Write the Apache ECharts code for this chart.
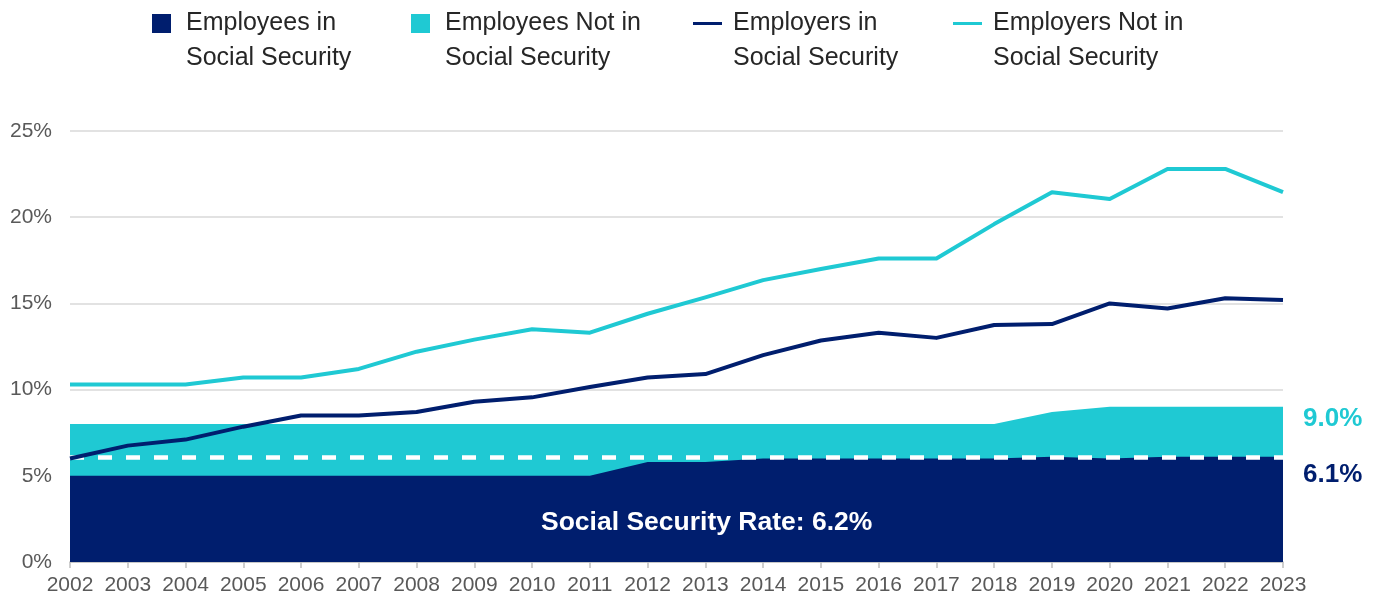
<!DOCTYPE html>
<html>
<head>
<meta charset="utf-8">
<script src="https://cdn.jsdelivr.net/npm/echarts@6/dist/echarts.min.js"></script>
<style>
html,body{margin:0;padding:0;background:#fff;}
#chart{width:1379px;height:600px;}
</style>
</head>
<body>
<div id="chart"></div>
<script>
const years = ['2002','2003','2004','2005','2006','2007','2008','2009','2010','2011','2012','2013','2014','2015','2016','2017','2018','2019','2020','2021','2022','2023'];
const employeesInSS    = [5.0,5.0,5.0,5.0,5.0,5.0,5.0,5.0,5.0,5.0,5.8,5.8,6.0,6.0,6.0,6.0,6.0,6.1,6.0,6.1,6.1,6.1];
const employeesNotInSS = [8.0,8.0,8.0,8.0,8.0,8.0,8.0,8.0,8.0,8.0,8.0,8.0,8.0,8.0,8.0,8.0,8.0,8.7,9.0,9.0,9.0,9.0];
const employersInSS    = [6.0,6.75,7.1,7.85,8.5,8.5,8.7,9.3,9.55,10.15,10.7,10.9,12.0,12.85,13.3,13.0,13.75,13.8,15.0,14.7,15.3,15.2];
const employersNotInSS = [10.3,10.3,10.3,10.7,10.7,11.2,12.2,12.9,13.5,13.3,14.4,15.35,16.35,17.0,17.6,17.6,19.6,21.45,21.05,22.8,22.8,21.45];
const yTicks = [0,5,10,15,20,25];
const dashedLevel = 6.1;   // where the dashed reference line sits in the picture
const seriesNames = ['Employees in Social Security','Employees Not in Social Security','Employers in Social Security','Employers Not in Social Security'];
const legendLabels = ['Employees in\nSocial Security','Employees Not in\nSocial Security','Employers in\nSocial Security','Employers Not in\nSocial Security'];
const rateLabel = 'Social Security Rate: 6.2%';

const NAVY = '#001e6e';
const CYAN = '#1fc9d3';
const FONT = "'Liberation Sans', Arial, Helvetica, sans-serif";

const chart = echarts.init(document.getElementById('chart'), null, {renderer:'canvas'});

const legendLefts = [152, 411, 693, 953];
const legends = seriesNames.map((n, i) => ({
  left: legendLefts[i],
  top: -29,
  padding: 0,
  data: [n],
  icon: 'rect',
  itemWidth: i < 2 ? 19 : 29,
  itemHeight: i < 2 ? 19 : 3,
  selectedMode: false,
  formatter: () => '\n' + legendLabels[i],
  textStyle: {
    fontFamily: FONT, fontSize: 25, lineHeight: 35, color: '#262626',
    padding: [0, 0, 0, i < 2 ? 10 : 6]
  }
}));

const option = {
  animation: false,
  backgroundColor: '#fff',
  textStyle: {fontFamily: FONT},
  legend: legends,
  grid: {left: 70, right: 96, top: 131, bottom: 38, containLabel: false},
  xAxis: {
    type: 'category',
    data: years,
    boundaryGap: false,
    axisLine: {lineStyle: {color: '#bfbfbf', width: 1.5}},
    axisTick: {show: true, length: 6, lineStyle: {color: '#bfbfbf', width: 1.5}},
    axisLabel: {interval: 0, fontSize: 21, color: '#595959', margin: 13, fontFamily: FONT}
  },
  yAxis: {
    type: 'value',
    min: yTicks[0], max: yTicks[yTicks.length-1], interval: 5,
    axisLine: {show: false},
    axisTick: {show: false},
    splitLine: {lineStyle: {color: '#d9d9d9', width: 1.5}},
    axisLabel: {formatter: '{value}%', fontSize: 21, color: '#595959', margin: 18, fontFamily: FONT}
  },
  series: [
    {
      name: seriesNames[1], type: 'line', data: employeesNotInSS,
      symbol: 'none', color: CYAN,
      lineStyle: {width: 0, color: CYAN},
      areaStyle: {color: CYAN, opacity: 1},
      endLabel: {show: true, formatter: p => p.value.toFixed(1) + '%', color: CYAN,
        fontSize: 26, fontWeight: 'bold', fontFamily: FONT, distance: 20, offset: [0, 12]},
      z: 2
    },
    {
      name: seriesNames[0], type: 'line', data: employeesInSS,
      symbol: 'none', color: NAVY,
      lineStyle: {width: 0, color: NAVY},
      areaStyle: {color: NAVY, opacity: 1},
      endLabel: {show: true, formatter: p => p.value.toFixed(1) + '%', color: NAVY,
        fontSize: 26, fontWeight: 'bold', fontFamily: FONT, distance: 20, offset: [0, 18]},
      markLine: {
        silent: true, symbol: ['none', 'none'],
        label: {show: false},
        emphasis: {disabled: true},
        data: [{yAxis: dashedLevel, lineStyle: {color: '#ffffff', type: [14, 14], width: 4.5, opacity: 1}}]
      },
      z: 3
    },
    {
      name: seriesNames[3], type: 'line', data: employersNotInSS,
      symbol: 'none', showSymbol: false, color: CYAN,
      lineStyle: {width: 4, color: CYAN, join: 'round'},
      z: 4
    },
    {
      name: seriesNames[2], type: 'line', data: employersInSS,
      symbol: 'none', showSymbol: false, color: NAVY,
      lineStyle: {width: 4, color: NAVY, join: 'round'},
      z: 5
    }
  ],
  graphic: [{
    type: 'text', left: 541, top: 509, z: 100,
    style: {text: rateLabel, fill: '#ffffff', font: "bold 26.5px " + FONT}
  }]
};
chart.setOption(option);
</script>
</body>
</html>
